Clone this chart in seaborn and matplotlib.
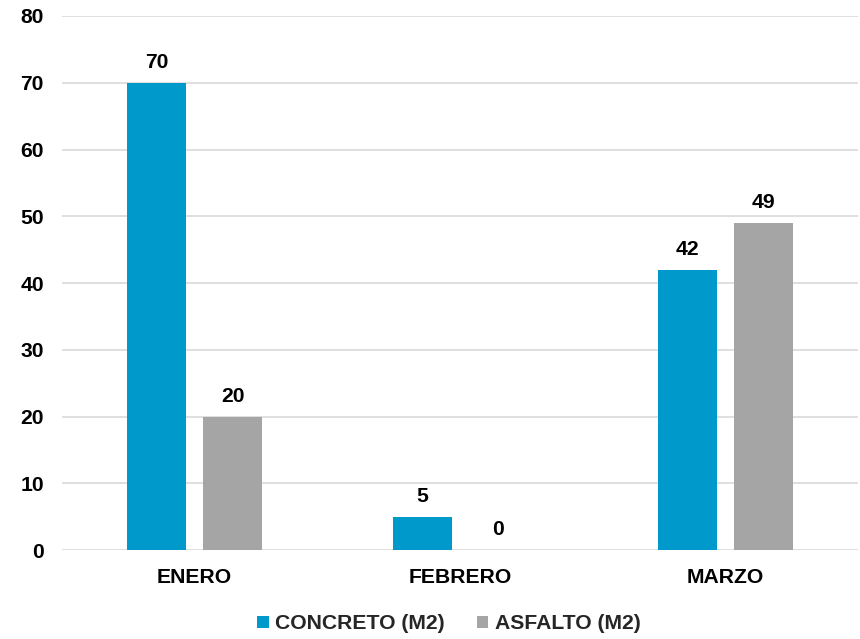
import pandas as pd
import seaborn as sns
import matplotlib
matplotlib.use("Agg")
import matplotlib.pyplot as plt

# Data
meses = ["ENERO", "FEBRERO", "MARZO"]
concreto = [70, 5, 42]
asfalto = [20, 0, 49]
series = ["CONCRETO (M2)", "ASFALTO (M2)"]

df = pd.DataFrame({
    "mes": meses * 2,
    "valor": concreto + asfalto,
    "serie": [series[0]] * 3 + [series[1]] * 3,
})

sns.set_theme(style="white")
plt.rcParams["font.family"] = ["Liberation Sans", "DejaVu Sans"]

fig = plt.figure(figsize=(8.6, 6.39), dpi=100)
ax = fig.add_axes([0.072, 0.139, 0.926, 0.836])

sns.barplot(
    data=df, x="mes", y="valor", hue="serie",
    palette=["#0099CC", "#A5A5A5"], saturation=1,
    width=0.573, gap=0.224, linewidth=0, ax=ax, legend=True,
)

fs = 15.2
for c in ax.containers:
    ax.bar_label(c, padding=8, fontsize=fs, fontweight="bold", color="#000000")

ax.set_ylim(0, 80)
ax.set_yticks(range(0, 81, 10))
ax.yaxis.grid(True, color="#D9D9D9", linewidth=1.2)
ax.set_axisbelow(True)
for s in ax.spines.values():
    s.set_visible(False)
ax.tick_params(axis="both", length=0, labelsize=fs, colors="#000000")
ax.tick_params(axis="y", pad=13)
ax.tick_params(axis="x", pad=13)
for lab in ax.get_xticklabels() + ax.get_yticklabels():
    lab.set_fontweight("bold")
ax.set_xlabel("")
ax.set_ylabel("")

ax.legend(
    loc="center", bbox_to_anchor=(0.486, -0.138), ncol=2, frameon=False,
    prop={"weight": "bold", "size": fs}, handlelength=0.55, handleheight=0.55,
    handletextpad=0.3, columnspacing=1.5,
)

fig.savefig("out.png", dpi=100)
